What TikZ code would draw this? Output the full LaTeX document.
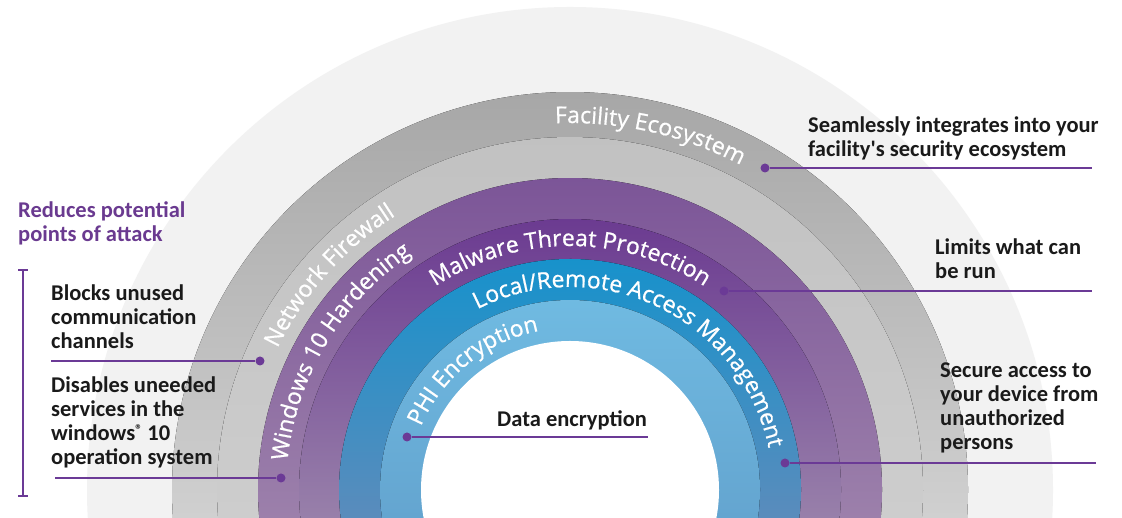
\documentclass[tikz,border=0pt]{standalone}
\usepackage{fontspec}
\usetikzlibrary{decorations.text}
\newfontfamily\lblfont{Carlito}
\newfontfamily\arcfont{Open Sans}[FakeBold=0.7]
\definecolor{lnpurple}{HTML}{6B3A96}
\definecolor{hdpurple}{HTML}{6A3A90}
\definecolor{lblack}{HTML}{1A1A1A}
\definecolor{rO}{HTML}{F2F2F2}
\definecolor{rAt}{HTML}{A6A6A6}\definecolor{rAb}{HTML}{D0D0D0}
\definecolor{rBt}{HTML}{C1C1C1}\definecolor{rBb}{HTML}{CDCDCD}
\definecolor{rCt}{HTML}{7B5497}\definecolor{rCb}{HTML}{9C80AB}
\definecolor{rDt}{HTML}{6A3990}\definecolor{rDb}{HTML}{9880AA}
\definecolor{rEt}{HTML}{1592CC}\definecolor{rEb}{HTML}{5A8CBC}
\definecolor{rFt}{HTML}{70BBE2}\definecolor{rFb}{HTML}{64A5D0}
\newcommand\ringseg[4][]{%
  \fill[top color=#3, bottom color=#4, #1] (570,28) ++({-asin(28/#2)}:#2)
    arc[start angle={-asin(28/#2)}, end angle={180+asin(28/#2)}, radius=#2] -- cycle;}
\newcommand\arctext[4]{%
  \path[decorate, decoration={text along path, text align=center, text color=white,
    text={|\arcfont\fontsize{23}{23}\selectfont|#4}}]
    (570,28) ++({#2+#3}:#1) arc[start angle={#2+#3}, end angle={#2-#3}, radius=#1];}
\tikzset{
  lbl/.style={anchor=base west, inner sep=0pt, text=lblack,
    font=\lblfont\bfseries\fontsize{22.5}{24}\selectfont},
  hdl/.style={lbl, text=hdpurple},
  dot/.style={circle, fill=lnpurple, inner sep=0pt, minimum size=9pt},
  conn/.style={draw=lnpurple, line width=2.2pt}
}
\begin{document}
\begin{tikzpicture}[x=1pt,y=1pt]
\useasboundingbox (0,0) rectangle (1122,518);
\fill[white] (0,0) rectangle (1122,518);
\begin{scope}
\clip (0,0) rectangle (1122,518);
\fill[rO] (570,28) circle[radius=483];
\ringseg{398}{rAt}{rAb}
\ringseg{353}{rBt}{rBb}
\ringseg{312}{rCt}{rCb}
\ringseg{271}{rDt}{rDb}
\ringseg{231}{rEt}{rEb}
\ringseg{190}{rFt}{rFb}
\fill[white] (570,28) circle[radius=149];
\end{scope}
% curved ring labels
\arctext{367}{77.3}{60}{Facility Ecosystem}
\arctext{325}{138.3}{60}{Network Firewall}
\arctext{284}{149}{60}{Windows 10 Hardening}
\arctext{244}{90}{60}{Malware Threat Protection}
\arctext{203}{64.5}{75}{Local/Remote Access Management}
\arctext{162}{129}{60}{PHI Encryption}
% dots and connectors
\node[dot] (dA) at (765,350) {};
\coordinate (eA) at (1092,350);
\node[dot] (dD) at (724,227) {};
\coordinate (eD) at (1092,227);
\node[dot] (dE) at (785,55) {};
\coordinate (eE) at (1096,55);
\node[dot] (dF) at (407,81) {};
\coordinate (eF) at (648,81);
\node[dot] (dB) at (260,157) {};
\coordinate (eB) at (51,157);
\node[dot] (dC) at (281,40) {};
\coordinate (eC) at (55,40);
\draw[conn] (dA) -- (eA);
\draw[conn] (dD) -- (eD);
\draw[conn] (dE) -- (eE);
\draw[conn] (dF) -- (eF);
\draw[conn] (dB) -- (eB);
\draw[conn] (dC) -- (eC);
% bracket
\coordinate (bt) at (23,248);
\coordinate (bb) at (23,22);
\draw[conn, line width=2pt] (bt) -- (bb);
\draw[conn, line width=2pt] ([xshift=-5pt]bt) -- ([xshift=5pt]bt);
\draw[conn, line width=2pt] ([xshift=-5pt]bb) -- ([xshift=5pt]bb);
% labels
\node[lbl] (tA) at (808,385) {\begin{tabular}[t]{@{}l@{}}Seamlessly integrates into your\\facility's security ecosystem\end{tabular}};
\node[lbl] (tD) at (935,263) {\begin{tabular}[t]{@{}l@{}}Limits what can\\be run\end{tabular}};
\node[lbl] (tE) at (940,140) {\begin{tabular}[t]{@{}l@{}}Secure access to\\your device from\\unauthorized\\persons\end{tabular}};
\node[lbl] (tF) at (497,91) {Data encryption};
\node[lbl] (tB) at (51,217) {\begin{tabular}[t]{@{}l@{}}Blocks unused\\communication\\channels\end{tabular}};
\node[lbl] (tC) at (51,125) {\begin{tabular}[t]{@{}l@{}}Disables uneeded\\services in the\\windows{\fontsize{14}{14}\selectfont\raisebox{0.45em}{\textregistered}} 10\\operation system\end{tabular}};
\node[hdl] (tH) at (18,300) {\begin{tabular}[t]{@{}l@{}}Reduces potential\\points of attack\end{tabular}};
\end{tikzpicture}
\end{document}
